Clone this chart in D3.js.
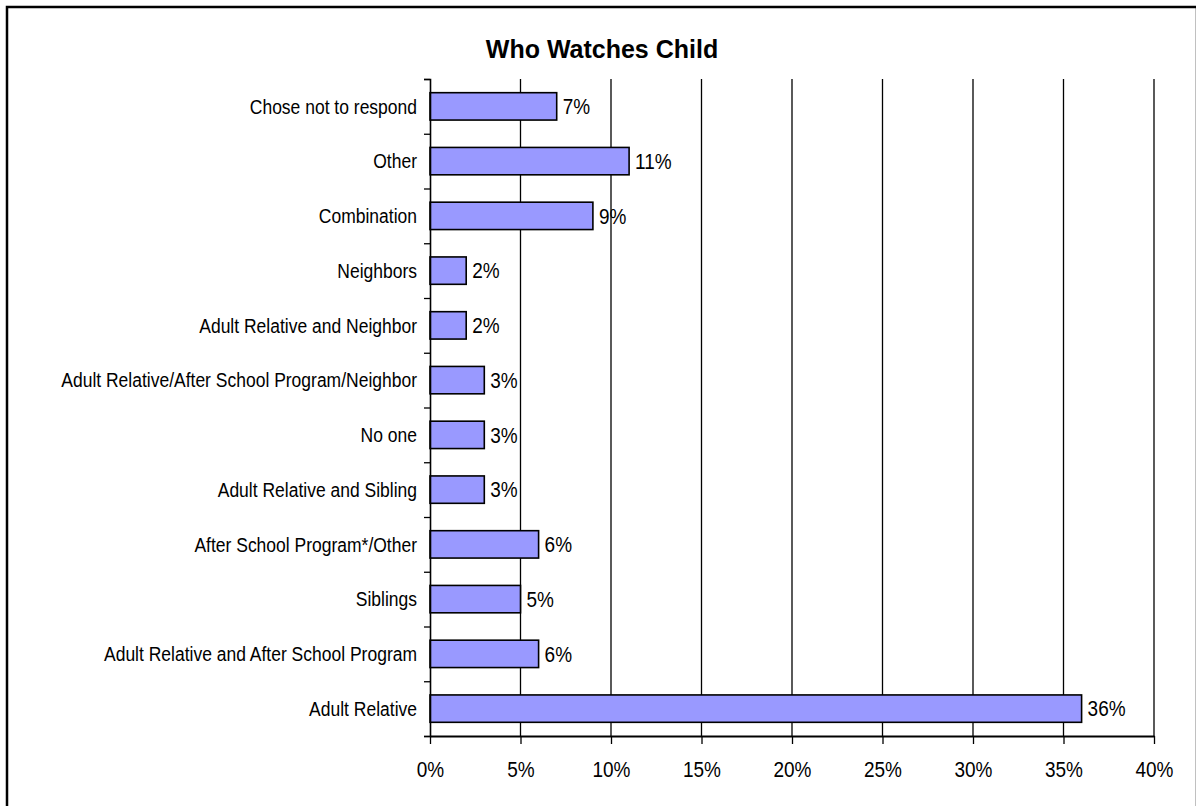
<!DOCTYPE html>
<html>
<head>
<meta charset="utf-8">
<script src="https://cdn.jsdelivr.net/npm/d3@7"></script>
<style>
  html, body { margin: 0; padding: 0; background: #fff; }
  svg { display: block; }
  text { font-family: "Liberation Sans", Arial, sans-serif; fill: #000; }
</style>
</head>
<body>
<script>
// Survey responses: who watches the child after school (percent of respondents)
const categories = [
  "Chose not to respond",
  "Other",
  "Combination",
  "Neighbors",
  "Adult Relative and Neighbor",
  "Adult Relative/After School Program/Neighbor",
  "No one",
  "Adult Relative and Sibling",
  "After School Program*/Other",
  "Siblings",
  "Adult Relative and After School Program",
  "Adult Relative"
];
const values = [7, 11, 9, 2, 2, 3, 3, 3, 6, 5, 6, 36];
const xTicks = [0, 5, 10, 15, 20, 25, 30, 35, 40];
const title = "Who Watches Child";

const W = 1196, H = 806;
const plot = { left: 430, right: 1154, top: 79, bottom: 736 };
const vStretch = 1.15; // text in this chart is drawn slightly taller than wide

const svg = d3.select("body").append("svg")
  .attr("width", W).attr("height", H);

// chart frame
svg.append("rect")
  .attr("x", 7).attr("y", 7)
  .attr("width", 1190).attr("height", 820)
  .attr("fill", "#fff").attr("stroke", "#000").attr("stroke-width", 2.5);

// title
svg.append("text")
  .attr("x", 7 + 1190 / 2).attr("y", 58)
  .attr("text-anchor", "middle")
  .style("font-size", "25px").style("font-weight", "bold")
  .text(title);

const x = d3.scaleLinear().domain([0, 40]).range([plot.left, plot.right]);
const y = d3.scaleBand().domain(categories)
  .range([plot.top, plot.bottom])
  .paddingInner(0.5).paddingOuter(0.25);
// band boundaries for the category-axis tick marks
const yEdge = d3.scaleLinear().domain([0, categories.length]).range([plot.top, plot.bottom]);

// vertical gridlines
svg.append("g").selectAll("line")
  .data(xTicks.filter(d => d > 0))
  .join("line")
  .attr("x1", d => x(d)).attr("x2", d => x(d))
  .attr("y1", plot.top).attr("y2", plot.bottom)
  .attr("stroke", "#000").attr("stroke-width", 1.3);

// bars
svg.append("g").selectAll("rect")
  .data(categories)
  .join("rect")
  .attr("x", x(0))
  .attr("y", d => y(d))
  .attr("width", (d, i) => x(values[i]) - x(0))
  .attr("height", y.bandwidth())
  .attr("fill", "#9999FF")
  .attr("stroke", "#000").attr("stroke-width", 1.6);

// value labels
svg.append("g").selectAll("text")
  .data(categories)
  .join("text")
  .attr("transform", (d, i) =>
    `translate(${x(values[i]) + 6},${y(d) + y.bandwidth() / 2 + 7.8}) scale(1,${vStretch})`)
  .style("font-size", "19px")
  .text((d, i) => values[i] + "%");

// category axis
const yAxis = svg.append("g")
  .attr("transform", `translate(${plot.left},0)`)
  .call(d3.axisLeft(yEdge).tickValues(d3.range(categories.length + 1))
    .tickSize(6).tickFormat(""));
yAxis.select(".domain").attr("stroke", "#000").attr("stroke-width", 1.6);
yAxis.selectAll(".tick line").attr("stroke", "#000").attr("stroke-width", 1.3);

svg.append("g").selectAll("text")
  .data(categories)
  .join("text")
  .attr("text-anchor", "end")
  .attr("transform", d =>
    `translate(${plot.left - 13},${y(d) + y.bandwidth() / 2 + 7.2}) scale(1,${vStretch})`)
  .style("font-size", "17.5px")
  .text(d => d);

// value axis
const xAxis = svg.append("g")
  .attr("transform", `translate(0,${plot.bottom})`)
  .call(d3.axisBottom(x).tickValues(xTicks).tickSize(8).tickSizeOuter(0)
    .tickFormat(d => d + "%"));
xAxis.select(".domain").attr("stroke", "#000").attr("stroke-width", 2.2);
xAxis.selectAll(".tick line").attr("stroke", "#000").attr("stroke-width", 1.3);
xAxis.selectAll(".tick text")
  .attr("y", null).attr("dy", null)
  .attr("transform", `translate(0,41) scale(1,${vStretch})`)
  .style("font-size", "19px")
  .style("font-family", "'Liberation Sans', Arial, sans-serif")
  .attr("fill", "#000");
</script>
</body>
</html>
